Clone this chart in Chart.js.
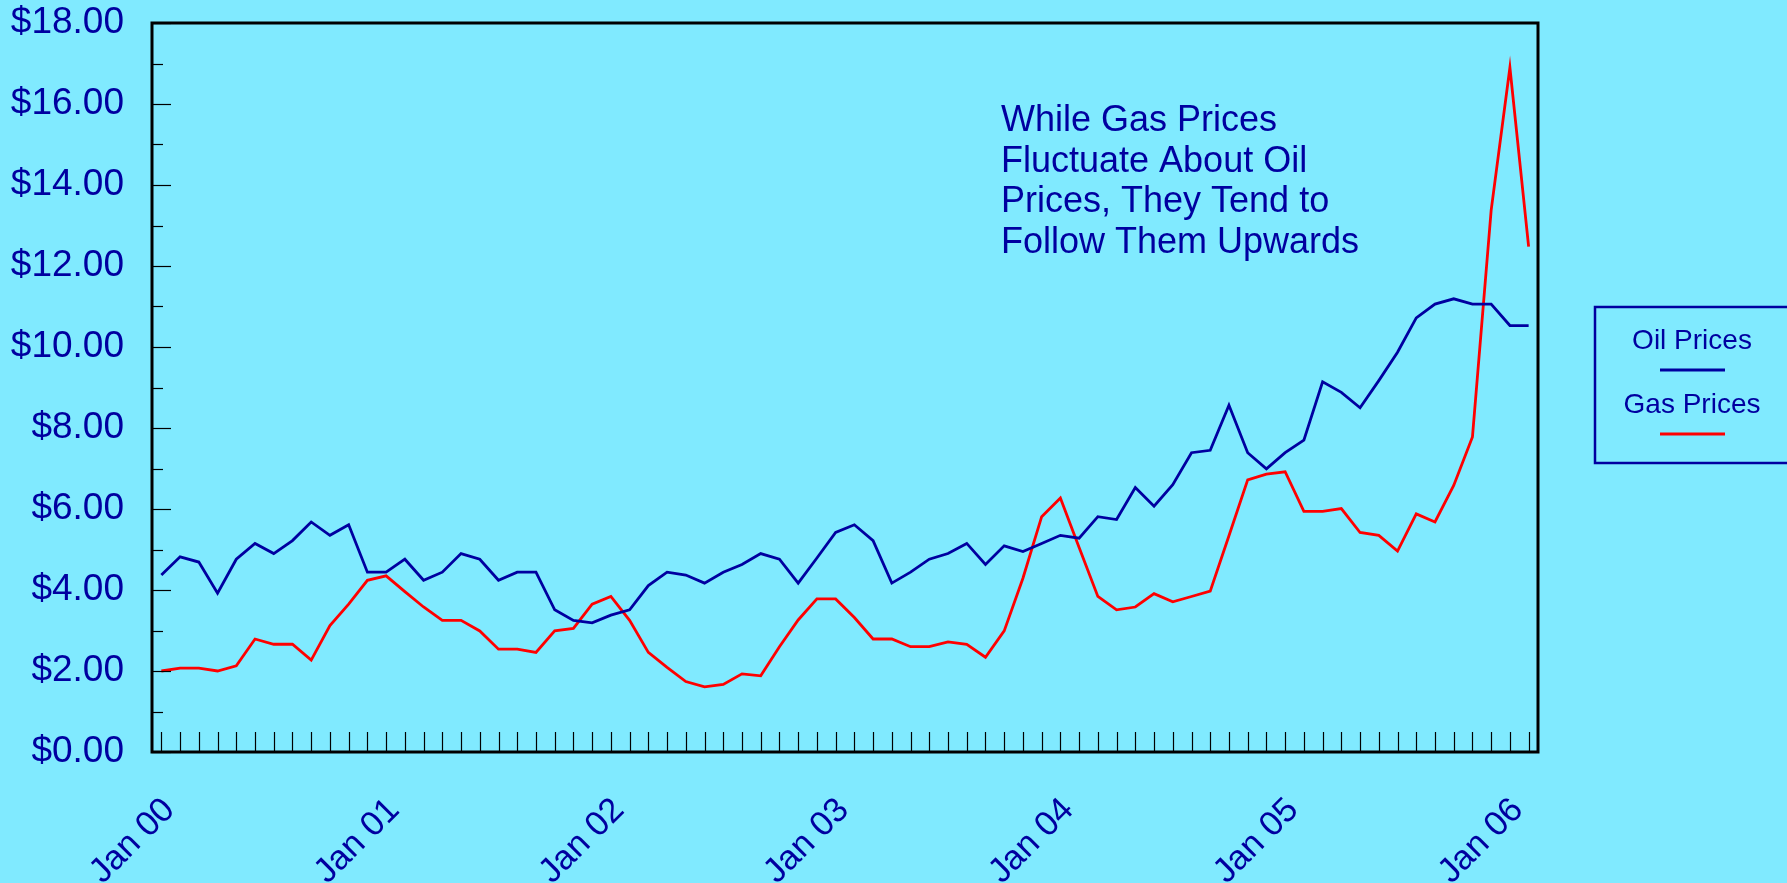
<!DOCTYPE html>
<html>
<head>
<meta charset="utf-8">
<title>Oil vs Gas Prices</title>
<script src="https://cdn.jsdelivr.net/npm/chart.js@4.4.1/dist/chart.umd.min.js"></script>
<style>
  html, body { margin: 0; padding: 0; background: #80eaff; }
  canvas { display: block; }
</style>
</head>
<body>
<canvas id="priceChart" width="1787" height="883"></canvas>
<script>
/* Oil vs gas prices, monthly Jan 00 - Feb 06 */

const years = ['00', '01', '02', '03', '04', '05', '06'];
const monthNames = ['Jan','Feb','Mar','Apr','May','Jun','Jul','Aug','Sep','Oct','Nov','Dec'];

// monthly category labels, only the January ones get printed
const months = [];
years.forEach(yr => monthNames.forEach(m => months.push(m + ' ' + yr)));
months.length = 74; // data runs to Feb 06

const oilPrices = [
  4.37, 4.82, 4.69, 3.92, 4.76, 5.15, 4.90, 5.22, 5.68, 5.35, 5.61, 4.44,
  4.44, 4.76, 4.24, 4.44, 4.90, 4.76, 4.24, 4.44, 4.44, 3.51, 3.25, 3.19,
  3.38, 3.51, 4.11, 4.44, 4.37, 4.17, 4.44, 4.63, 4.90, 4.76, 4.17, 4.79,
  5.42, 5.61, 5.22, 4.17, 4.44, 4.76, 4.90, 5.15, 4.63, 5.09, 4.95, 5.15,
  5.35, 5.28, 5.81, 5.74, 6.53, 6.07, 6.60, 7.39, 7.45, 8.56, 7.39, 6.99,
  7.39, 7.70, 9.14, 8.88, 8.50, 9.17, 9.87, 10.72, 11.06, 11.19, 11.06, 11.06,
  10.53, 10.53
];

const gasPrices = [
  2.00, 2.07, 2.07, 2.00, 2.13, 2.79, 2.66, 2.66, 2.27, 3.12, 3.65, 4.24,
  4.35, 3.96, 3.58, 3.25, 3.25, 2.99, 2.54, 2.54, 2.46, 2.99, 3.05, 3.65,
  3.84, 3.25, 2.46, 2.09, 1.74, 1.61, 1.67, 1.93, 1.88, 2.60, 3.26, 3.78,
  3.78, 3.32, 2.79, 2.79, 2.60, 2.60, 2.72, 2.66, 2.34, 2.99, 4.29, 5.81,
  6.27, 5.05, 3.84, 3.51, 3.58, 3.91, 3.71, 3.84, 3.97, 5.34, 6.72, 6.86,
  6.92, 5.94, 5.94, 6.01, 5.42, 5.35, 4.96, 5.88, 5.68, 6.58, 7.78, 13.38,
  16.90, 12.48
];

const seriesNames = ['Oil Prices', 'Gas Prices'];
const yMin = 0, yMax = 18, yStep = 2;
const noteLines = [
  'While Gas Prices',
  'Fluctuate About Oil',
  'Prices, They Tend to',
  'Follow Them Upwards'
];

const BG = '#80eaff';
const NAVY = '#0000a0';
const RED = '#ff0000';
const FONT = "'Liberation Sans', Arial, Helvetica, sans-serif";

// background, inner tick marks, frame, note and legend box
const decor = {
  id: 'decor',
  beforeDraw(chart) {
    const ctx = chart.ctx;
    ctx.save();
    ctx.fillStyle = BG;
    ctx.fillRect(0, 0, chart.width, chart.height);
    ctx.restore();
  },
  afterDraw(chart) {
    const { ctx, chartArea: a, scales: { x, y } } = chart;
    ctx.save();

    // y ticks: long on every $2, short on every $1
    ctx.strokeStyle = '#000';
    ctx.lineWidth = 1.2;
    for (let v = yMin; v <= yMax; v += 1) {
      const py = Math.round(y.getPixelForValue(v)) + 0.5;
      const len = v % 2 === 0 ? 19 : 11;
      ctx.beginPath(); ctx.moveTo(a.left, py); ctx.lineTo(a.left + len, py); ctx.stroke();
    }
    // x ticks: one per month
    months.forEach((m, i) => {
      const px = Math.round(x.getPixelForValue(i)) + 0.5;
      ctx.beginPath(); ctx.moveTo(px, a.bottom - 20); ctx.lineTo(px, a.bottom); ctx.stroke();
    });

    // plot frame
    ctx.lineWidth = 3;
    ctx.strokeStyle = '#000';
    ctx.strokeRect(a.left, a.top, a.right - a.left, a.bottom - a.top);

    // note text
    ctx.fillStyle = NAVY;
    ctx.font = '36px ' + FONT;
    ctx.textAlign = 'left';
    ctx.textBaseline = 'alphabetic';
    noteLines.forEach((t, i) => ctx.fillText(t, 1001, 131 + i * 40.6));

    // legend box
    ctx.strokeStyle = NAVY;
    ctx.lineWidth = 2.5;
    ctx.strokeRect(1595, 307, 220, 156);
    ctx.font = '28px ' + FONT;
    ctx.textAlign = 'center';
    chart.data.datasets.forEach((ds, i) => {
      const base = 349 + i * 64;
      ctx.fillStyle = NAVY;
      ctx.fillText(ds.label, 1692, base);
      ctx.strokeStyle = ds.borderColor;
      ctx.lineWidth = 2.8;
      ctx.beginPath(); ctx.moveTo(1660, base + 21); ctx.lineTo(1725, base + 21); ctx.stroke();
    });

    ctx.restore();
  }
};

new Chart(document.getElementById('priceChart').getContext('2d'), {
  type: 'line',
  data: {
    labels: months,
    datasets: [
      { label: seriesNames[0], data: oilPrices, borderColor: NAVY, borderWidth: 2.8, pointRadius: 0, tension: 0, fill: false },
      { label: seriesNames[1], data: gasPrices, borderColor: RED, borderWidth: 2.8, pointRadius: 0, tension: 0, fill: false }
    ]
  },
  options: {
    responsive: false,
    animation: false,
    devicePixelRatio: 1,
    layout: { padding: { left: 0, top: 23, right: 249, bottom: 0 } },
    plugins: { legend: { display: false }, title: { display: false }, tooltip: { enabled: false } },
    scales: {
      x: {
        offset: true,
        grid: { display: false, drawTicks: false },
        border: { display: false },
        afterFit: s => { s.height = 131; s.paddingLeft = 0; s.paddingRight = 0; },
        ticks: {
          autoSkip: false,
          minRotation: 45,
          maxRotation: 45,
          padding: 38,
          labelOffset: 8,
          color: NAVY,
          font: { family: FONT, size: 34.5 },
          callback: (val, idx) => months[idx].startsWith('Jan') ? months[idx] : ''
        }
      },
      y: {
        min: yMin,
        max: yMax,
        grid: { display: false, drawTicks: false },
        border: { display: false },
        afterFit: s => { s.width = 152; s.paddingTop = 0; s.paddingBottom = 0; },
        ticks: {
          stepSize: yStep,
          padding: 28,
          color: NAVY,
          font: { family: FONT, size: 37 },
          callback: v => '$' + Number(v).toFixed(2)
        }
      }
    }
  },
  plugins: [decor]
});
</script>
</body>
</html>
